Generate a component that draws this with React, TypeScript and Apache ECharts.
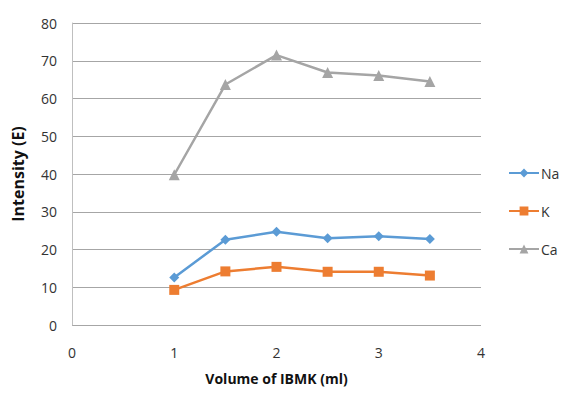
import React, { useEffect, useRef } from "react";
import * as echarts from "echarts";

const volumes = [1, 1.5, 2, 2.5, 3, 3.5];
const naValues = [12.6, 22.6, 24.7, 23.0, 23.5, 22.8];
const kValues = [9.3, 14.2, 15.4, 14.1, 14.1, 13.1];
const caValues = [39.8, 63.7, 71.5, 66.9, 66.1, 64.5];

const FONT = "'Open Sans', sans-serif";

const pairs = (vals: number[]) => volumes.map((v, i) => [v, vals[i]]);

export default function App() {
  const ref = useRef<HTMLDivElement>(null);
  useEffect(() => {
    const chart = echarts.init(ref.current!, null, { renderer: "svg" });
    const mk = (name: string, vals: number[], color: string, symbol: string, size: number) => ({
      name,
      type: "line",
      data: pairs(vals),
      symbol,
      symbolSize: size,
      itemStyle: { color },
      lineStyle: { color, width: 2.5 },
    });
    chart.setOption({
      animation: false,
      backgroundColor: "#fff",
      textStyle: { fontFamily: FONT },
      grid: { left: 72, top: 23, right: 82, bottom: 69 },
      legend: {
        orient: "vertical",
        left: 503,
        top: 161,
        itemGap: 24,
        itemWidth: 30,
        itemHeight: 11,
        textStyle: { fontFamily: FONT, fontSize: 14, color: "#333", padding: [0, 0, 0, -3] },
        data: ["Na", "K", "Ca"],
      },
      xAxis: {
        type: "value",
        min: 0,
        max: 4,
        interval: 1,
        name: "Volume of IBMK (ml)",
        nameLocation: "middle",
        nameGap: 46,
        nameTextStyle: { fontFamily: FONT, fontWeight: "bold", fontSize: 14, color: "#111" },
        axisLine: { show: false },
        axisTick: { show: false },
        splitLine: { show: false },
        axisLabel: { fontFamily: FONT, fontSize: 14, color: "#333", margin: 20 },
      },
      yAxis: {
        type: "value",
        min: 0,
        max: 80,
        interval: 10,
        name: "Intensity (E)",
        nameLocation: "middle",
        nameGap: 46,
        nameTextStyle: { fontFamily: FONT, fontWeight: "bold", fontSize: 16, color: "#111" },
        axisLine: { show: true, lineStyle: { color: "#bfbfbf", width: 1 } },
        axisTick: { show: false },
        splitLine: { lineStyle: { color: "#a6a6a6", width: 1 } },
        axisLabel: { fontFamily: FONT, fontSize: 14, color: "#333", margin: 15 },
      },
      series: [
        mk("Na", naValues, "#5b9bd5", "diamond", 10),
        mk("K", kValues, "#ed7d31", "rect", 10),
        mk("Ca", caValues, "#a5a5a5", "triangle", 11),
      ],
    });
    return () => chart.dispose();
  }, []);
  return <div ref={ref} style={{ width: 563, height: 394, position: "absolute", left: 0, top: 0 }} />;
}
